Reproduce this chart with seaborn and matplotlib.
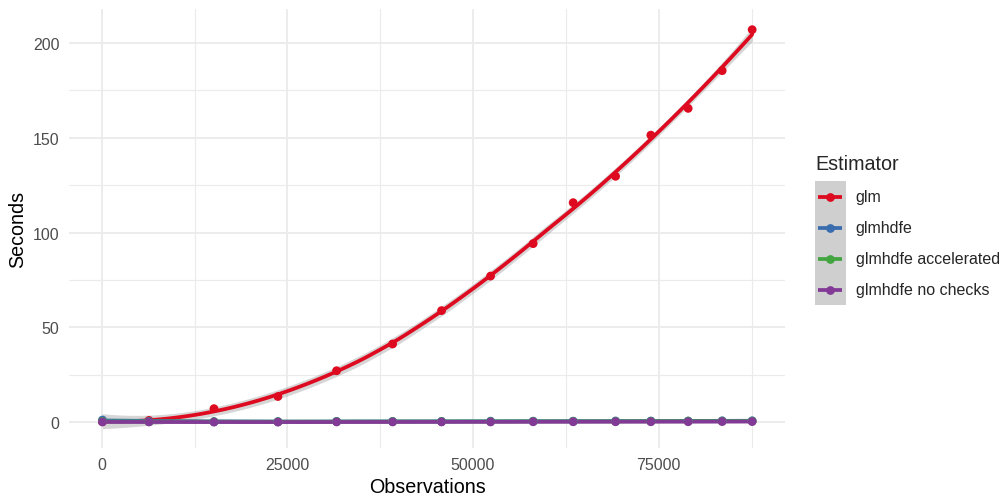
import numpy as np
import pandas as pd
import matplotlib
matplotlib.use('Agg')
import matplotlib.pyplot as plt
from matplotlib.lines import Line2D
from matplotlib.patches import Rectangle
from matplotlib.ticker import MultipleLocator, FixedLocator
import seaborn as sns

# valores
observations = [100, 6370, 15120, 23730, 31630, 39170, 45760, 52360,
                58090, 63480, 69190, 73940, 78960, 83540, 87580]
glm = [0.3, 1.0, 7.2, 13.6, 27.2, 41.3, 58.9, 77.1, 94.2, 115.8,
       129.7, 151.4, 165.5, 185.4, 207.0]
glmhdfe = [1.2, 0.5, 0.4, 0.4, 0.5, 0.5, 0.5, 0.6, 0.6, 0.6, 0.7, 0.7, 0.7, 0.8, 0.8]
glmhdfe_acc = [0.5, 0.3, 0.3, 0.3, 0.4, 0.4, 0.4, 0.4, 0.5, 0.5, 0.5, 0.5, 0.6, 0.6, 0.6]
glmhdfe_nochk = [0.2, 0.2, 0.1, 0.1, 0.2, 0.2, 0.2, 0.2, 0.3, 0.3, 0.3, 0.3, 0.3, 0.4, 0.4]

estimators = ['glm', 'glmhdfe', 'glmhdfe accelerated', 'glmhdfe no checks']
cores = ['#DD0A20', '#3A6DAE', '#43A53F', '#833A97']

df = pd.DataFrame({
    'Observations': observations * 4,
    'Seconds': glm + glmhdfe + glmhdfe_acc + glmhdfe_nochk,
    'Estimator': [e for e in estimators for _ in observations],
})


# loess (grau 2, span 0.75) com erro padrão, como o geom_smooth do ggplot
def loess_pesos(x, x0, span=0.75):
    n = len(x)
    q = int(np.floor(span * n))
    d = np.abs(x - x0)
    h = np.sort(d)[q - 1]
    u = np.clip(d / h, 0, 1)
    return (1 - u ** 3) ** 3


def loess_linha(x, x0):
    xs = x / x.max()
    w = loess_pesos(xs, x0 / x.max())
    X = np.column_stack([np.ones_like(xs), xs, xs ** 2])
    W = np.diag(w)
    A = np.linalg.pinv(X.T @ W @ X) @ X.T @ W
    t = x0 / x.max()
    return np.array([1, t, t ** 2]) @ A


def loess(x, y, grade):
    x = np.asarray(x, float)
    y = np.asarray(y, float)
    L = np.array([loess_linha(x, xi) for xi in x])
    R = np.eye(len(x)) - L
    RR = R.T @ R
    d1 = np.trace(RR)
    d2 = np.trace(RR @ RR)
    sigma = np.sqrt(np.sum((R @ y) ** 2) / d1)
    gl = d1 ** 2 / d2
    # quantil t 0.975 aproximado
    tval = 1.96 + 2.4 / gl + 2.8 / gl ** 2
    fit, se = [], []
    for g in grade:
        l = loess_linha(x, g)
        fit.append(l @ y)
        se.append(sigma * np.sqrt(np.sum(l ** 2)))
    fit = np.array(fit)
    se = np.array(se)
    return fit, fit - tval * se, fit + tval * se


sns.set_theme(style='white')
plt.rcParams['font.family'] = ['Liberation Sans', 'DejaVu Sans']

fig = plt.figure(figsize=(10.01, 5.02), dpi=100)
ax = fig.add_axes([69.3 / 1001, 1 - 449.3 / 502, (785 - 69.3) / 1001, (449.3 - 10) / 502])

# grade estilo theme_minimal
ax.set_axisbelow(True)
ax.xaxis.set_major_locator(FixedLocator([0, 25000, 50000, 75000]))
ax.xaxis.set_minor_locator(FixedLocator([12500, 37500, 62500, 87500]))
ax.yaxis.set_major_locator(MultipleLocator(50))
ax.yaxis.set_minor_locator(FixedLocator([25, 75, 125, 175]))
ax.grid(which='major', color='#EBEBEB', linewidth=1.3)
ax.grid(which='minor', color='#EBEBEB', linewidth=0.8)
for s in ax.spines.values():
    s.set_visible(False)

grade = np.linspace(min(observations), max(observations), 80)
suaves = []
for est in estimators:
    sub = df[df['Estimator'] == est]
    fit, lo, hi = loess(sub['Observations'], sub['Seconds'], grade)
    suaves.append(pd.DataFrame({'Observations': grade, 'fit': fit, 'lo': lo,
                                'hi': hi, 'Estimator': est}))
suave = pd.concat(suaves, ignore_index=True)

for est in estimators:
    s = suave[suave['Estimator'] == est]
    ax.fill_between(s['Observations'], s['lo'], s['hi'], color='#999999',
                    alpha=0.4, linewidth=0, zorder=1)

sns.lineplot(data=suave, x='Observations', y='fit', hue='Estimator',
             hue_order=estimators, palette=cores, linewidth=2.7, legend=False,
             ax=ax, zorder=2)
sns.scatterplot(data=df, x='Observations', y='Seconds', hue='Estimator',
                hue_order=estimators, palette=cores, s=40, linewidth=0,
                legend=False, ax=ax, zorder=3)

ax.set_xlim(-4360, 92000)
ax.set_ylim(-13.7, 217.9)
ax.tick_params(which='both', length=0, labelsize=11.5, labelcolor='#4D4D4D')
ax.tick_params(axis='y', pad=7)
ax.tick_params(axis='x', pad=6)
ax.set_xlabel('Observations', fontsize=14.2, color='black', labelpad=4)
ax.set_ylabel('Seconds', fontsize=14.2, color='black', labelpad=4)

# legenda desenhada à mão (estilo ggplot)
def fx(px):
    return px / 1001


def fy(py):
    return 1 - py / 502


fig.text(fx(815), fy(165), 'Estimator', fontsize=14.2, va='center', ha='left')
fig.add_artist(Rectangle((fx(815), fy(306)), fx(845.7) - fx(815), fy(181.7) - fy(306),
                         transform=fig.transFigure, facecolor='#CFCFCF', edgecolor='none'))
ys = [197.5, 228.5, 259.5, 290.5]
for est, cor, y in zip(estimators, cores, ys):
    fig.add_artist(Line2D([fx(817.7), fx(842.3)], [fy(y), fy(y)], transform=fig.transFigure,
                          color=cor, linewidth=2.7, solid_capstyle='butt'))
    fig.add_artist(Line2D([fx(830)], [fy(y)], transform=fig.transFigure, color=cor,
                          marker='o', markersize=6.3, markeredgewidth=0))
    fig.text(fx(855.7), fy(y), est, fontsize=11.5, va='center', ha='left')

plt.savefig('out.png', dpi=100)
